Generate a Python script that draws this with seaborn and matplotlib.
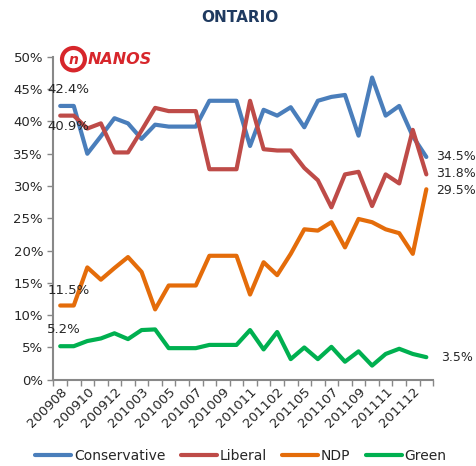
import pandas as pd
import numpy as np
import matplotlib
matplotlib.use("Agg")
import matplotlib.pyplot as plt
import seaborn as sns
from matplotlib.patches import Circle

# monthly polling periods (only every other one gets a label)
periods = ["200908", "", "200910", "", "200912", "", "201003", "", "201005", "",
           "201007", "", "201009", "", "201011", "", "201102", "", "201105", "",
           "201107", "", "201109", "", "201111", "", "201112", ""]

conservative = [42.4, 42.4, 35.0, 37.7, 40.5, 39.7, 37.3, 39.5, 39.2, 39.2,
                39.2, 43.2, 43.2, 43.2, 36.2, 41.8, 40.9, 42.2, 39.1, 43.2,
                43.8, 44.1, 37.8, 46.8, 40.9, 42.4, 37.7, 34.5]
liberal = [40.9, 40.9, 38.9, 39.7, 35.2, 35.2, 38.6, 42.1, 41.6, 41.6,
           41.6, 32.6, 32.6, 32.6, 43.2, 35.7, 35.5, 35.5, 32.8, 30.9,
           26.7, 31.8, 32.2, 26.9, 31.8, 30.4, 38.7, 31.8]
ndp = [11.5, 11.5, 17.4, 15.5, 17.3, 19.0, 16.7, 10.9, 14.6, 14.6,
       14.6, 19.2, 19.2, 19.2, 13.2, 18.2, 16.2, 19.5, 23.3, 23.1,
       24.4, 20.5, 24.9, 24.4, 23.3, 22.7, 19.5, 29.5]
green = [5.2, 5.2, 6.0, 6.4, 7.2, 6.3, 7.7, 7.8, 4.9, 4.9,
         4.9, 5.4, 5.4, 5.4, 7.7, 4.7, 7.4, 3.2, 5.0, 3.2,
         5.1, 2.8, 4.4, 2.2, 4.0, 4.8, 4.0, 3.5]

parties = ["Conservative", "Liberal", "NDP", "Green"]
colors = ["#4A7EBB", "#BE4B48", "#E46C0A", "#00B050"]

# long form table for seaborn
n = len(periods)
df = pd.DataFrame({
    "idx": list(range(n)) * 4,
    "party": np.repeat(parties, n),
    "value": conservative + liberal + ndp + green,
})

sns.set_style("white")
plt.rcParams["font.family"] = ["DejaVu Sans"]

fig = plt.figure(figsize=(4.77, 4.66), dpi=100)
ax = fig.add_axes([0.112, 0.185, 0.796, 0.693])

sns.lineplot(data=df, x="idx", y="value", hue="party", hue_order=parties,
             palette=colors, linewidth=3, ax=ax, legend=False)

ax.set_xlim(-0.5, n - 0.5)
ax.set_ylim(0, 50)
ax.set_yticks(range(0, 51, 5))
ax.set_yticklabels([f"{v}%" for v in range(0, 51, 5)], fontsize=9.5)
ax.set_xticks([i + 0.5 for i in range(-1, n)], minor=False)
ax.set_xticklabels([])
ax.set_xticks(range(n), minor=True)
ax.set_xticklabels(periods, minor=True, rotation=45, ha="right",
                   rotation_mode="anchor", fontsize=9.5)
ax.tick_params(axis="x", which="minor", length=0, pad=4)
ax.tick_params(axis="both", which="major", length=4, color="#888888",
               direction="out", width=1)
ax.tick_params(axis="x", which="major", bottom=True)
ax.tick_params(axis="y", left=True)
ax.set_xlabel("")
ax.set_ylabel("")
for s in ["top", "right"]:
    ax.spines[s].set_visible(False)
for s in ["left", "bottom"]:
    ax.spines[s].set_color("#888888")
    ax.spines[s].set_linewidth(1.5)

# data labels at the ends
lab = dict(fontsize=9.5, ha="left", va="center")
ax.text(-0.95, 44.9, "42.4%", **lab)
ax.text(-0.95, 39.2, "40.9%", **lab)
ax.text(-0.95, 13.8, "11.5%", **lab)
ax.text(-0.95, 7.8, "5.2%", **lab)
rlab = dict(fontsize=9, ha="left", va="center")
ax.text(n - 0.3, 34.5, "34.5%", **rlab)
ax.text(n - 0.3, 31.9, "31.8%", **rlab)
ax.text(n - 0.3, 29.3, "29.5%", **rlab)
ax.text(n + 0.1, 3.5, "3.5%", **rlab)

# title
fig.text(0.503, 0.962, "ONTARIO", ha="center", va="center", fontsize=11,
         fontweight="bold", color="#1F3A60")

# logo
logo = Circle((0.154, 0.873), 0.024, transform=fig.transFigure,
              facecolor="white", edgecolor="#D7262B", linewidth=3)
fig.add_artist(logo)
fig.text(0.154, 0.871, "n", ha="center", va="center", fontsize=10,
         fontweight="heavy", style="italic", color="#D7262B")
fig.text(0.183, 0.873, "NANOS", ha="left", va="center", fontsize=11.5,
         fontweight="heavy", style="italic", color="#D7262B")

# legend
handles = [plt.Line2D([], [], color=c, linewidth=3) for c in colors]
fig.legend(handles, parties, loc="center", bbox_to_anchor=(0.505, 0.022),
           ncol=4, frameon=False, fontsize=10, handlelength=2.6,
           handletextpad=0.2, columnspacing=1.1)

fig.savefig("out.png", dpi=100)
